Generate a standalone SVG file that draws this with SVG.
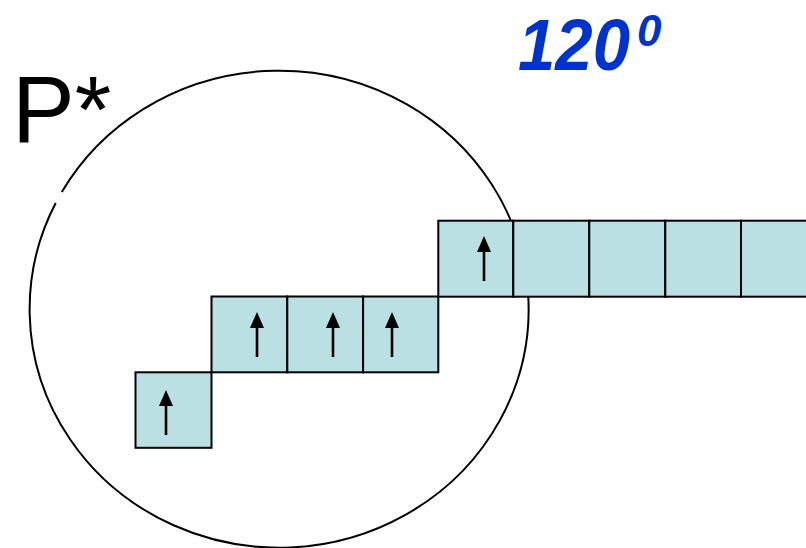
<svg xmlns="http://www.w3.org/2000/svg" width="806" height="548" viewBox="0 0 806 548">
<style>
.box{fill:#BBE0E3;stroke:#000;stroke-width:2}
.arr{stroke:#000;stroke-width:2.6;fill:none}
.head{fill:#000}
.lbl{font-family:"Liberation Sans",Arial,sans-serif}
</style>
<defs>
<g id="up"><path class="head" d="M0 0 L7 16 L-7 16 Z"/><line class="arr" x1="0" y1="14" x2="0" y2="45"/></g>
</defs>
<rect width="806" height="548" fill="#fff"/>
<g id="circle"><path d="M55.7 203 A249.5 238.5 0 1 0 61.8 192" fill="none" stroke="#000" stroke-width="2"/></g>
<g id="row1">
<rect class="box" x="135.5" y="372.3" width="76" height="75.5"/>
<use href="#up" x="166" y="390"/>
</g>
<g id="row2">
<rect class="box" x="211.5" y="296.5" width="75.8" height="75.8"/>
<rect class="box" x="287.3" y="296.5" width="75.8" height="75.8"/>
<rect class="box" x="363.1" y="296.5" width="75.2" height="75.8"/>
<use href="#up" x="257" y="312"/>
<use href="#up" x="333" y="312"/>
<use href="#up" x="392" y="312"/>
</g>
<g id="row3">
<rect class="box" x="438.3" y="220.7" width="75" height="76"/>
<rect class="box" x="513.3" y="220.7" width="76" height="76"/>
<rect class="box" x="589.3" y="220.7" width="76" height="76"/>
<rect class="box" x="665.3" y="220.7" width="75.7" height="76"/>
<rect class="box" x="741" y="220.7" width="76" height="76"/>
<use href="#up" x="484" y="236"/>
</g>
<g id="labels">
<text class="lbl" x="12" y="142" font-size="94" fill="#000">P*</text>
<text class="lbl" font-weight="bold" font-style="italic" fill="#0033CC"><tspan x="518" y="70" font-size="72" textLength="112" lengthAdjust="spacingAndGlyphs">120</tspan><tspan x="637" y="46" font-size="44">0</tspan></text>
</g>
</svg>
